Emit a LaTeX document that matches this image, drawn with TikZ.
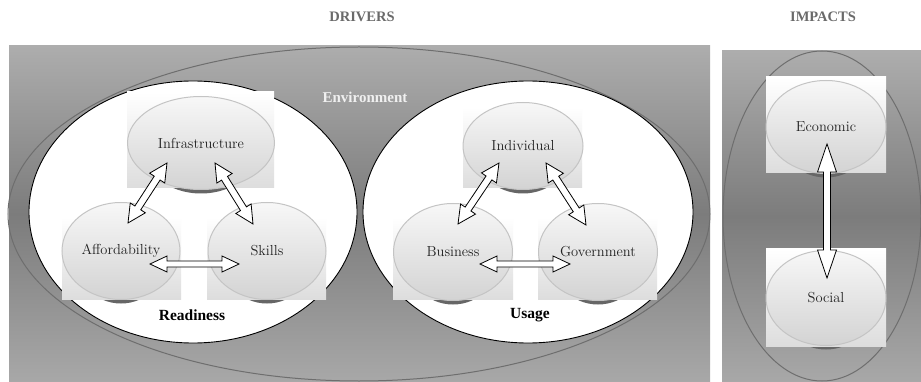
\documentclass[tikz,border=0pt]{standalone}
\usepackage{fontspec}
\newfontfamily\headfont{Liberation Serif}
\usetikzlibrary{calc,shapes.geometric}

\definecolor{panellight}{HTML}{ADADAD}
\definecolor{paneldark}{HTML}{7C7C7C}
\definecolor{panelbottom}{HTML}{A8A8A8}
\definecolor{ringgray}{HTML}{6E6E6E}
\definecolor{headgray}{HTML}{6A6A6A}
\definecolor{bubbleedge}{HTML}{C4C4C4}
\definecolor{bubblelow}{HTML}{D3D3D3}
\definecolor{boxlow}{HTML}{DDDDDD}
\definecolor{shadowgray}{HTML}{666666}
\definecolor{labeltext}{HTML}{222222}

\tikzset{
  panel/.style={top color=panellight, bottom color=panelbottom, middle color=paneldark},
  ring/.style={draw=ringgray, line width=1pt},
  group/.style={draw=black, line width=0.9pt, fill=white},
  bubshadow/.style={fill=shadowgray},
  bubbox/.style={top color=white, bottom color=boxlow},
  bubble/.style={ellipse, draw=bubbleedge, line width=1pt, top color=white!97!black,
    bottom color=bubblelow, inner sep=0pt, text=labeltext,
    font=\fontsize{14.5}{16}\selectfont},
  heading/.style={font=\headfont\bfseries\fontsize{14.5}{16}\selectfont, text=headgray},
  grouplabel/.style={font=\headfont\bfseries\fontsize{15.5}{17}\selectfont, text=black},
  envlabel/.style={font=\headfont\bfseries\fontsize{15}{17}\selectfont, text=white!94!black},
  blockarrow/.style={draw=black, line width=0.8pt, fill=white, line join=miter},
}

% bubble: name, centre x, centre y, ellipse width, ellipse height, backing box, text
\newcommand\bubble[7]{%
  \fill[bubshadow] (#2,#3+4) ellipse ({#4*0.4} and {#5/2});
  \shade[bubbox] #6;
  \node[bubble, minimum width=#4pt, minimum height=#5pt] (#1) at (#2,#3) {#7};
}

% double-headed block arrow: from, to, head length, head half width, shaft half width
\newcommand\dblarrow[5]{%
  \draw[blockarrow] let \p1=($(#2)-(#1)$), \n1={atan2(\y1,\x1)} in
    (#1) -- ($(#1)+(\n1:#3)+(\n1+90:#4)$) -- ($(#1)+(\n1:#3)+(\n1+90:#5)$)
    -- ($(#2)+(\n1:-#3)+(\n1+90:#5)$) -- ($(#2)+(\n1:-#3)+(\n1+90:#4)$) -- (#2)
    -- ($(#2)+(\n1:-#3)+(\n1-90:#4)$) -- ($(#2)+(\n1:-#3)+(\n1-90:#5)$)
    -- ($(#1)+(\n1:#3)+(\n1-90:#5)$) -- ($(#1)+(\n1:#3)+(\n1-90:#4)$) -- cycle;}

\begin{document}
\begin{tikzpicture}[x=1pt, y=-1pt]
  \useasboundingbox (0,0) rectangle (921,382);

  % headings
  \node[heading] (drivers) at (362,17) {DRIVERS};
  \node[heading] (impacts) at (823,17) {IMPACTS};

  % background panels
  \shade[panel] (9,46) rectangle (710,382);
  \shade[panel] (722,51) rectangle (921,382);

  % environment and impacts rings
  \draw[ring] (359,214) ellipse (351 and 167);
  \draw[ring] (822,216) ellipse (99 and 165);

  % readiness and usage groups
  \draw[group] (193,212) ellipse (164 and 131);
  \draw[group] (528,212) ellipse (165 and 131);

  \node[envlabel] (env) at (365,97) {Environment};
  \node[grouplabel] (readiness) at (192,315) {Readiness};
  \node[grouplabel] (usage) at (530,315) {Usage};

  % readiness drivers
  \bubble{infra}{201}{143}{147}{93}{(127,92) rectangle (274,188)}{Infrastructure}
  \bubble{afford}{121}{251}{118}{97}{(62,217) rectangle (181,299)}{Affordability}
  \bubble{skills}{267}{251}{118}{97}{(207,217) rectangle (326,299)}{Skills}

  % usage drivers
  \bubble{indiv}{523}{146}{120}{87}{(463,107) rectangle (582,188)}{Individual}
  \bubble{business}{453}{252}{119}{97}{(393,217) rectangle (513,299)}{Business}
  \bubble{govt}{598}{252}{119}{97}{(538,217) rectangle (657,299)}{Government}

  % impacts
  \bubble{econ}{826}{127}{120}{93}{(766,77) rectangle (886,173)}{Economic}
  \bubble{social}{826}{298}{120}{95}{(766,249) rectangle (886,346)}{Social}

  % arrow tips
  \coordinate (ia1) at (167,163); \coordinate (ia2) at (128,223);
  \coordinate (is1) at (215,163); \coordinate (is2) at (253,224);
  \coordinate (as1) at (150,264); \coordinate (as2) at (239,264);
  \coordinate (ib1) at (499,163); \coordinate (ib2) at (458,224);
  \coordinate (ig1) at (546,163); \coordinate (ig2) at (586,225);
  \coordinate (bg1) at (480,264); \coordinate (bg2) at (570,264);
  \coordinate (es1) at (827,144); \coordinate (es2) at (827,278);

  \dblarrow{ia1}{ia2}{18pt}{9pt}{3.5pt}
  \dblarrow{is1}{is2}{18pt}{9pt}{3.5pt}
  \dblarrow{as1}{as2}{17pt}{8pt}{3pt}
  \dblarrow{ib1}{ib2}{18pt}{9pt}{3.5pt}
  \dblarrow{ig1}{ig2}{18pt}{9pt}{3.5pt}
  \dblarrow{bg1}{bg2}{17pt}{8pt}{3pt}
  \dblarrow{es1}{es2}{28pt}{9.5pt}{3.5pt}
\end{tikzpicture}
\end{document}
